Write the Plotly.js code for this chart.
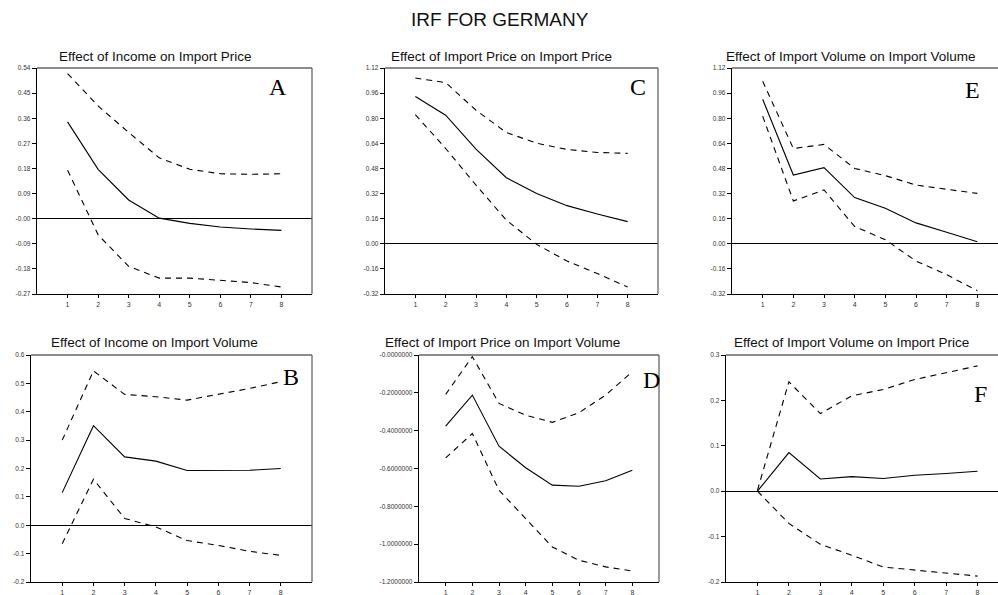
<!DOCTYPE html>
<html>
<head>
<meta charset="utf-8">
<script src="https://cdn.plot.ly/plotly-3.0.1.min.js"></script>
<style>
html,body{margin:0;padding:0;overflow:hidden;background:#fff;}
#chart{width:1012px;height:595px;}
</style>
</head>
<body>
<div id="chart"></div>
<script>
// ---- data ----
const horizon = [1, 2, 3, 4, 5, 6, 7, 8];
const xTickLabels = ["1", "2", "3", "4", "5", "6", "7", "8"];

// A: Effect of Income on Import Price
const A_irf   = [0.347, 0.177, 0.067, 0.002, -0.017, -0.030, -0.037, -0.042];
const A_upper = [0.520, 0.404, 0.309, 0.218, 0.177, 0.161, 0.159, 0.161];
const A_lower = [0.174, -0.058, -0.171, -0.213, -0.213, -0.220, -0.229, -0.245];
const A_yticks = [-0.27, -0.18, -0.09, 0, 0.09, 0.18, 0.27, 0.36, 0.45, 0.54];
const A_ylabels = ["-0.27", "-0.18", "-0.09", "-0.00", "0.09", "0.18", "0.27", "0.36", "0.45", "0.54"];

// C: Effect of Import Price on Import Price
const C_irf   = [0.938, 0.819, 0.603, 0.421, 0.320, 0.243, 0.190, 0.141];
const C_upper = [1.056, 1.027, 0.851, 0.709, 0.641, 0.601, 0.582, 0.576];
const C_lower = [0.823, 0.607, 0.374, 0.151, -0.004, -0.110, -0.190, -0.275];
const C_yticks = [-0.32, -0.16, 0, 0.16, 0.32, 0.48, 0.64, 0.80, 0.96, 1.12];
const C_ylabels = ["-0.32", "-0.16", "0.00", "0.16", "0.32", "0.48", "0.64", "0.80", "0.96", "1.12"];

// E: Effect of Import Volume on Import Volume
const E_irf   = [0.921, 0.438, 0.485, 0.294, 0.226, 0.133, 0.073, 0.013];
const E_upper = [1.035, 0.607, 0.633, 0.480, 0.434, 0.374, 0.347, 0.321];
const E_lower = [0.813, 0.273, 0.343, 0.110, 0.026, -0.110, -0.197, -0.299];
const E_yticks = C_yticks;
const E_ylabels = C_ylabels;

// B: Effect of Income on Import Volume
const B_irf   = [0.115, 0.351, 0.241, 0.226, 0.193, 0.193, 0.194, 0.200];
const B_upper = [0.300, 0.544, 0.461, 0.453, 0.441, 0.461, 0.482, 0.506];
const B_lower = [-0.065, 0.162, 0.024, -0.006, -0.054, -0.071, -0.092, -0.106];
const B_yticks = [-0.2, -0.1, 0, 0.1, 0.2, 0.3, 0.4, 0.5, 0.6];
const B_ylabels = ["-0.2", "-0.1", "0.0", "0.1", "0.2", "0.3", "0.4", "0.5", "0.6"];

// D: Effect of Import Price on Import Volume
const D_irf   = [-0.376, -0.212, -0.482, -0.596, -0.688, -0.694, -0.665, -0.609];
const D_upper = [-0.208, -0.009, -0.256, -0.318, -0.356, -0.305, -0.212, -0.088];
const D_lower = [-0.544, -0.415, -0.715, -0.865, -1.015, -1.085, -1.120, -1.142];
const D_yticks = [-1.2, -1.0, -0.8, -0.6, -0.4, -0.2, 0];
const D_ylabels = ["-1.2000000", "-1.0000000", "-0.8000000", "-0.6000000", "-0.4000000", "-0.2000000", "-0.0000000"];

// F: Effect of Import Volume on Import Price
const F_irf   = [0.000, 0.085, 0.027, 0.032, 0.028, 0.035, 0.039, 0.044];
const F_upper = [0.002, 0.241, 0.171, 0.210, 0.224, 0.246, 0.261, 0.276];
const F_lower = [0.000, -0.071, -0.117, -0.141, -0.167, -0.174, -0.181, -0.187];
const F_yticks = [-0.2, -0.1, 0, 0.1, 0.2, 0.3];
const F_ylabels = ["-0.2", "-0.1", "0.0", "0.1", "0.2", "0.3"];

const mainTitle = "IRF FOR GERMANY";
const panelTitles = {
  A: "Effect of Income on Import Price",
  C: "Effect of Import Price on Import Price",
  E: "Effect of Import Volume on Import Volume",
  B: "Effect of Income on Import Volume",
  D: "Effect of Import Price on Import Volume",
  F: "Effect of Import Volume on Import Price"
};

// ---- layout geometry (pixels in a 1012 x 595 canvas) ----
const W = 1012, H = 595;
const panels = [
  {key: "A", irf: A_irf, up: A_upper, lo: A_lower, yt: A_yticks, yl: A_ylabels, yr: [-0.27, 0.54], px: [37, 312], py: [68, 294], tx: 155, ty: 57, lx: 278, ly: 87, zero: true},
  {key: "C", irf: C_irf, up: C_upper, lo: C_lower, yt: C_yticks, yl: C_ylabels, yr: [-0.32, 1.12], px: [385, 658], py: [68, 294], tx: 501, ty: 57, lx: 638, ly: 87, zero: true},
  {key: "E", irf: E_irf, up: E_upper, lo: E_lower, yt: E_yticks, yl: E_ylabels, yr: [-0.32, 1.12], px: [732, 1008], py: [68, 294], tx: 851, ty: 57, lx: 972, ly: 90, zero: true},
  {key: "B", irf: B_irf, up: B_upper, lo: B_lower, yt: B_yticks, yl: B_ylabels, yr: [-0.2, 0.6], px: [31, 312], py: [355, 582], tx: 154, ty: 343, lx: 291, ly: 377, zero: true},
  {key: "D", irf: D_irf, up: D_upper, lo: D_lower, yt: D_yticks, yl: D_ylabels, yr: [-1.2, 0], px: [419, 659], py: [355, 582], tx: 502, ty: 343, lx: 651, ly: 380, zero: false},
  {key: "F", irf: F_irf, up: F_upper, lo: F_lower, yt: F_yticks, yl: F_ylabels, yr: [-0.2, 0.3], px: [726, 1009], py: [355, 582], tx: 851, ty: 343, lx: 980, ly: 394, zero: true}
];

const traces = [];
const layout = {
  width: W, height: H,
  margin: {l: 0, r: 0, t: 0, b: 0},
  paper_bgcolor: "#fff", plot_bgcolor: "#fff",
  showlegend: false,
  font: {family: "Liberation Sans, Arial, sans-serif", color: "#000"},
  annotations: [{
    text: mainTitle, xref: "paper", yref: "paper",
    x: 500 / W, y: 1 - 19 / H, xanchor: "center", yanchor: "middle",
    showarrow: false, font: {size: 19, color: "#111"}
  }],
  shapes: []
};

panels.forEach((p, i) => {
  const n = i + 1;
  const xa = "x" + (n === 1 ? "" : n), ya = "y" + (n === 1 ? "" : n);
  const xk = "xaxis" + (n === 1 ? "" : n), yk = "yaxis" + (n === 1 ? "" : n);
  const solid = {color: "#000", width: 1.1};
  const dashed = {color: "#000", width: 1.1, dash: "6px,5px"};
  traces.push({x: horizon, y: p.up, xaxis: xa, yaxis: ya, mode: "lines", line: dashed, hoverinfo: "skip"});
  traces.push({x: horizon, y: p.lo, xaxis: xa, yaxis: ya, mode: "lines", line: dashed, hoverinfo: "skip"});
  traces.push({x: horizon, y: p.irf, xaxis: xa, yaxis: ya, mode: "lines", line: solid, hoverinfo: "skip"});

  layout[xk] = {
    domain: [p.px[0] / W, p.px[1] / W], range: [0, 9], anchor: ya,
    tickvals: horizon, ticktext: xTickLabels,
    ticks: "outside", ticklen: 3, tickwidth: 1, tickcolor: "#000",
    tickfont: {size: 7, color: "#333"},
    showgrid: false, zeroline: false,
    showline: true, linecolor: "#000", linewidth: 1.3, mirror: false, fixedrange: true
  };
  layout[yk] = {
    domain: [1 - p.py[1] / H, 1 - p.py[0] / H], range: p.yr, anchor: xa,
    tickvals: p.yt, ticktext: p.yl,
    ticks: "outside", ticklen: 4, tickwidth: 1, tickcolor: "#000",
    tickfont: {size: 6.5, color: "#333"},
    showgrid: false, zeroline: p.zero, zerolinecolor: "#000", zerolinewidth: 1.2,
    showline: true, linecolor: "#000", linewidth: 1.3, mirror: false, fixedrange: true
  };
  // grey top and right frame
  layout.shapes.push({type: "line", xref: xa + " domain", yref: ya + " domain", x0: 0, x1: 1, y0: 1, y1: 1, line: {color: "#666", width: 1.3}});
  layout.shapes.push({type: "line", xref: xa + " domain", yref: ya + " domain", x0: 1, x1: 1, y0: 0, y1: 1, line: {color: "#666", width: 1.3}});

  layout.annotations.push({
    text: panelTitles[p.key], xref: "paper", yref: "paper",
    x: p.tx / W, y: 1 - p.ty / H, xanchor: "center", yanchor: "middle",
    showarrow: false, font: {size: 13.5, color: "#111"}
  });
  layout.annotations.push({
    text: p.key, xref: "paper", yref: "paper",
    x: p.lx / W, y: 1 - p.ly / H, xanchor: "center", yanchor: "middle",
    showarrow: false, font: {size: 24, family: "Liberation Serif, Times New Roman, serif", color: "#000"}
  });
});

Plotly.newPlot("chart", traces, layout, {displayModeBar: false, staticPlot: true});
</script>
</body>
</html>
